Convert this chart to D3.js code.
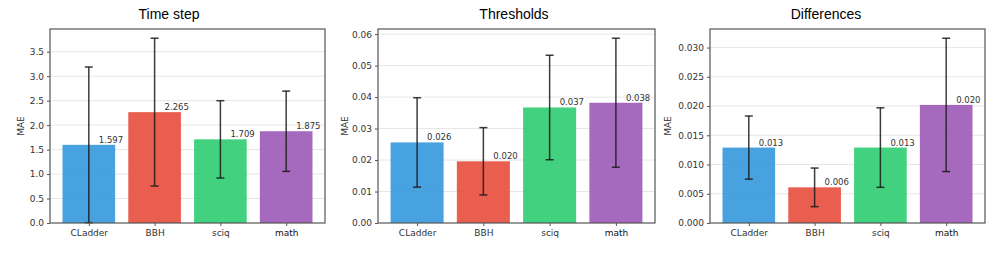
<!DOCTYPE html>
<html>
<head>
<meta charset="utf-8">
<script src="https://cdn.jsdelivr.net/npm/d3@7"></script>
<style>
  body { margin: 0; background: #fff; }
  svg { display: block; }
</style>
</head>
<body>
<div id="chart"></div>
<script>
// data
var categories = ["CLadder", "BBH", "sciq", "math"];
var colors = ["#3498db", "#e74c3c", "#2ecc71", "#9b59b6"];

var timeMean = [1.597, 2.265, 1.709, 1.875];
var timeStd  = [1.59, 1.51, 0.79, 0.82];

var thrMean = [0.0256, 0.0196, 0.0367, 0.0382];
var thrStd  = [0.0142, 0.0107, 0.0166, 0.0205];

var diffMean = [0.0129, 0.0061, 0.0129, 0.0202];
var diffStd  = [0.0054, 0.0033, 0.0068, 0.0114];

var timeTicks = [0, 0.5, 1, 1.5, 2, 2.5, 3, 3.5];
var thrTicks  = [0, 0.01, 0.02, 0.03, 0.04, 0.05, 0.06];
var diffTicks = [0, 0.005, 0.01, 0.015, 0.02, 0.025, 0.03];

var panels = [
  {title: "Time step", mean: timeMean, std: timeStd, ticks: timeTicks, fmt: d3.format(".1f"),
   left: 50, right: 325, titleX: 169, labelX: 21},
  {title: "Thresholds", mean: thrMean, std: thrStd, ticks: thrTicks, fmt: d3.format(".2f"),
   left: 378, right: 655, titleX: 514, labelX: 345},
  {title: "Differences", mean: diffMean, std: diffStd, ticks: diffTicks, fmt: d3.format(".3f"),
   left: 710, right: 985, titleX: 826, labelX: 668}
];

var W = 997, H = 260, plotTop = 29, plotBottom = 223;

var svg = d3.select("#chart").append("svg")
    .attr("width", W)
    .attr("height", H);

panels.forEach(function(p) {
  var g = svg.append("g");

  var maxTop = d3.max(p.mean, function(m, i) { return m + p.std[i]; });
  var y = d3.scaleLinear().domain([0, maxTop * 1.05]).range([plotBottom, plotTop]);

  // matplotlib style x: bars at 0..3 width 0.8, 5% margins
  var x = d3.scaleLinear().domain([-0.59, 3.59]).range([p.left, p.right]);

  // grid
  g.append("g").selectAll("line")
    .data(p.ticks.slice(1))
    .enter().append("line")
    .attr("x1", p.left).attr("x2", p.right)
    .attr("y1", function(d) { return y(d); })
    .attr("y2", function(d) { return y(d); })
    .attr("stroke", "#e6e6e6")
    .attr("stroke-width", 1);

  // bars
  g.append("g").selectAll("rect")
    .data(p.mean)
    .enter().append("rect")
    .attr("x", function(d, i) { return x(i - 0.4); })
    .attr("width", function(d, i) { return x(i + 0.4) - x(i - 0.4); })
    .attr("y", function(d) { return y(d); })
    .attr("height", function(d) { return plotBottom - y(d); })
    .attr("fill", function(d, i) { return colors[i]; })
    .attr("fill-opacity", 0.9);

  // error bars
  var eb = g.append("g").selectAll("g")
    .data(p.mean)
    .enter().append("g")
    .attr("stroke", "#1a1a1a")
    .attr("stroke-opacity", 0.85)
    .attr("stroke-width", 1.5);

  eb.append("line")
    .attr("x1", function(d, i) { return x(i); })
    .attr("x2", function(d, i) { return x(i); })
    .attr("y1", function(d, i) { return y(d + p.std[i]); })
    .attr("y2", function(d, i) { return y(Math.max(0, d - p.std[i])); });

  eb.append("line")
    .attr("x1", function(d, i) { return x(i) - 4; })
    .attr("x2", function(d, i) { return x(i) + 4; })
    .attr("y1", function(d, i) { return y(d + p.std[i]); })
    .attr("y2", function(d, i) { return y(d + p.std[i]); });

  eb.filter(function(d, i) { return d - p.std[i] > 0; })
    .append("line")
    .attr("x1", function(d, i) { return x(i) - 4; })
    .attr("x2", function(d, i) { return x(i) + 4; })
    .attr("y1", function(d, i) { return y(d - p.std[i]); })
    .attr("y2", function(d, i) { return y(d - p.std[i]); });

  // value labels
  g.append("g").selectAll("text")
    .data(p.mean)
    .enter().append("text")
    .attr("x", function(d, i) { return x(i) + 10; })
    .attr("y", function(d) { return y(d) - 2; })
    .attr("font-family", "DejaVu Sans, sans-serif")
    .attr("font-size", 8.5)
    .attr("fill", "#333")
    .text(function(d) { return d3.format(".3f")(d); });

  // axes
  var yAxis = d3.axisLeft(y).tickValues(p.ticks).tickFormat(p.fmt).tickSize(3).tickPadding(3);
  var ya = g.append("g").attr("transform", "translate(" + p.left + ",0)").call(yAxis);
  ya.select(".domain").remove();
  ya.selectAll("line").attr("stroke", "#555");
  ya.selectAll("text").attr("font-family", "DejaVu Sans, sans-serif").attr("font-size", 9).attr("fill", "#333");

  var xAxis = d3.axisBottom(x).tickValues([0, 1, 2, 3])
    .tickFormat(function(d) { return categories[d]; }).tickSize(3).tickPadding(4);
  var xa = g.append("g").attr("transform", "translate(0," + plotBottom + ")").call(xAxis);
  xa.select(".domain").remove();
  xa.selectAll("line").attr("stroke", "#555");
  xa.selectAll("text").attr("font-family", "DejaVu Sans, sans-serif").attr("font-size", 9)
    .attr("fill", function(d) { return d === 3 ? "#111" : "#333"; });

  // frame
  g.append("rect")
    .attr("x", p.left).attr("y", plotTop)
    .attr("width", p.right - p.left).attr("height", plotBottom - plotTop)
    .attr("fill", "none")
    .attr("stroke", "#555")
    .attr("stroke-width", 1.2);

  // y label
  g.append("text")
    .attr("transform", "translate(" + p.labelX + "," + ((plotTop + plotBottom) / 2) + ") rotate(-90)")
    .attr("text-anchor", "middle")
    .attr("dy", "0.35em")
    .attr("font-family", "DejaVu Sans, sans-serif")
    .attr("font-size", 9)
    .attr("fill", "#333")
    .text("MAE");

  // title
  g.append("text")
    .attr("x", p.titleX).attr("y", 19)
    .attr("text-anchor", "middle")
    .attr("font-family", "Liberation Sans, Arial, sans-serif")
    .attr("font-size", 14)
    .attr("fill", "#000")
    .text(p.title);
});
</script>
</body>
</html>
